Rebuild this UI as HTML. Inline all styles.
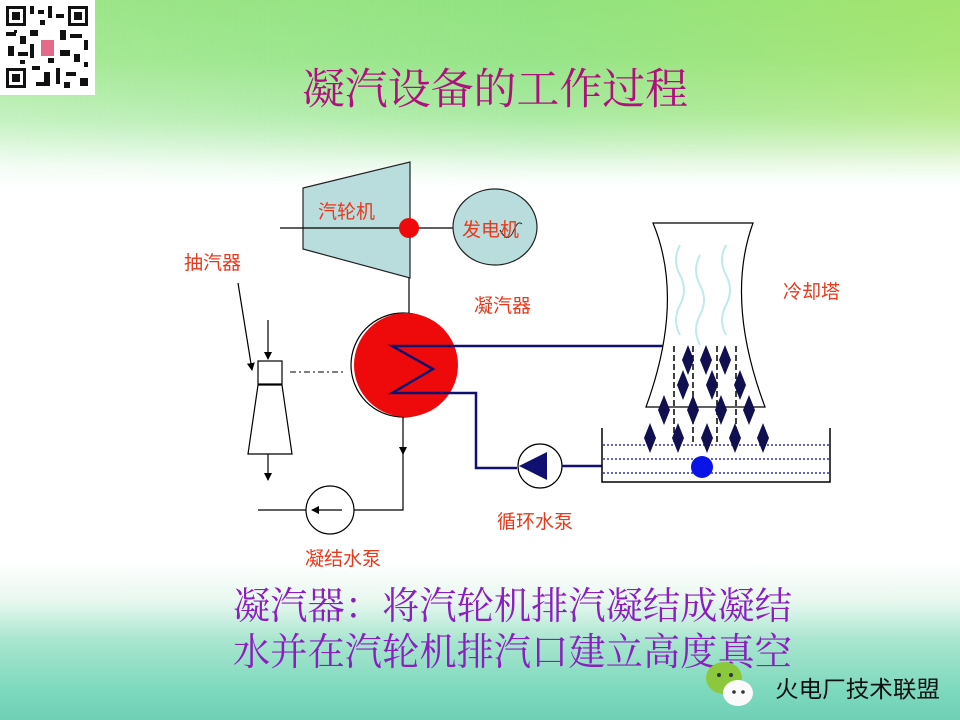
<!DOCTYPE html>
<html><head><meta charset="utf-8"><style>
html,body{margin:0;padding:0;}
body{width:960px;height:720px;overflow:hidden;position:relative;
background:linear-gradient(180deg,#9fe68a 0px,#a8ea98 60px,#c6f2c2 120px,#f2fcf4 165px,#ffffff 190px,#ffffff 560px,#e9f8f0 600px,#a9e6cf 640px,#7dd9bd 690px,#6fd0b5 720px);}
.grad{position:absolute;left:0;top:0;width:960px;height:200px;background:linear-gradient(90deg,rgba(255,255,255,0.0) 0%,rgba(120,220,110,0.35) 55%,rgba(170,225,60,0.35) 100%);
-webkit-mask-image:linear-gradient(180deg,#000 0%,#000 55%,transparent 90%);mask-image:linear-gradient(180deg,#000 0%,#000 55%,transparent 90%);}
svg{position:absolute;left:0;top:0;}
</style></head><body>
<div class="grad"></div>
<svg width="960" height="720" viewBox="0 0 960 720" xmlns="http://www.w3.org/2000/svg">
<defs>
<marker id="ar" markerWidth="8" markerHeight="10" refX="7" refY="5" orient="auto" markerUnits="userSpaceOnUse"><path d="M0,1 L8,5 L0,9 z" fill="#000"/></marker>
</defs>
<rect x="0" y="0" width="95" height="95" fill="#fff"/>
<g fill="#111">
<rect x="6" y="6" width="20" height="20"/><rect x="9" y="9" width="14" height="14" fill="#fff"/><rect x="12" y="12" width="8" height="8"/>
<rect x="68" y="6" width="20" height="20"/><rect x="71" y="9" width="14" height="14" fill="#fff"/><rect x="74" y="12" width="8" height="8"/>
<rect x="6" y="68" width="20" height="20"/><rect x="9" y="71" width="14" height="14" fill="#fff"/><rect x="12" y="74" width="8" height="8"/>
<rect x="30" y="6" width="4" height="8"/><rect x="38" y="10" width="6" height="4"/><rect x="48" y="6" width="4" height="12"/><rect x="56" y="14" width="8" height="4"/>
<rect x="6" y="32" width="10" height="4"/><rect x="20" y="36" width="6" height="8"/><rect x="30" y="30" width="8" height="6"/><rect x="60" y="30" width="6" height="10"/>
<rect x="70" y="34" width="12" height="4"/><rect x="84" y="40" width="4" height="10"/><rect x="8" y="46" width="6" height="10"/><rect x="18" y="52" width="10" height="4"/>
<rect x="30" y="44" width="4" height="14"/><rect x="60" y="50" width="10" height="6"/><rect x="74" y="54" width="6" height="8"/><rect x="32" y="66" width="8" height="4"/>
<rect x="44" y="72" width="6" height="10"/><rect x="56" y="68" width="4" height="16"/><rect x="66" y="72" width="10" height="4"/><rect x="80" y="78" width="8" height="8"/>
<rect x="36" y="82" width="14" height="4"/><rect x="64" y="82" width="6" height="6"/>
<rect x="14" y="30" width="3" height="3"/><rect x="40" y="20" width="5" height="5"/><rect x="20" y="60" width="5" height="4"/><rect x="48" y="58" width="6" height="5"/><rect x="84" y="62" width="4" height="5"/>
</g>
<rect x="41" y="40" width="13" height="16" fill="#e46a8a"/>
<text x="495" y="104" text-anchor="middle" font-family="'Liberation Serif','Noto Serif CJK SC',serif" font-size="43" fill="#b0107e" textLength="386" lengthAdjust="spacingAndGlyphs">凝汽设备的工作过程</text>

<polygon points="303,188 410,162 410,278 303,249" fill="#b9dcdc" stroke="#222" stroke-width="1.2"/>
<line x1="280" y1="228" x2="455" y2="228" stroke="#000" stroke-width="1.2"/>
<ellipse cx="495" cy="227" rx="42" ry="38" fill="#b9dcdc" stroke="#222" stroke-width="1.2"/>
<path d="M500,230 q8,15 14,0 q4,-10 8,-6" fill="none" stroke="#222" stroke-width="1"/>
<circle cx="409" cy="228" r="10" fill="#ee0a0a"/>
<text x="318" y="218" font-family="'Liberation Sans','Noto Sans CJK SC',sans-serif" font-size="19" fill="#e8391c">汽轮机</text>
<text x="462" y="236" font-family="'Liberation Sans','Noto Sans CJK SC',sans-serif" font-size="19" fill="#e8391c">发电机</text>
<line x1="409" y1="278" x2="409" y2="314" stroke="#000" stroke-width="1.2"/>
<circle cx="403" cy="365" r="52" fill="none" stroke="#000" stroke-width="1.2"/>
<circle cx="406" cy="365" r="52" fill="#ee0a0a"/>
<polyline points="700,346 392,346 433,369 392,393 476,393 476,468 517,468" fill="none" stroke="#101070" stroke-width="2.5"/>
<line x1="290" y1="372" x2="345" y2="372" stroke="#000" stroke-width="1" stroke-dasharray="6,3,2,3"/>
<circle cx="540" cy="466" r="22" fill="#fff" stroke="#000" stroke-width="1.2"/>
<polygon points="519,466 547,452 547,480" fill="#101070"/>
<line x1="562" y1="466" x2="602" y2="466" stroke="#101070" stroke-width="2.5"/>
<line x1="403" y1="417" x2="403" y2="454" stroke="#000" stroke-width="1.2" marker-end="url(#ar)"/>
<polyline points="403,452 403,510 354,510" fill="none" stroke="#000" stroke-width="1.2"/>
<circle cx="330" cy="510" r="24" fill="#fff" stroke="#000" stroke-width="1.2"/>
<line x1="342" y1="510" x2="312" y2="510" stroke="#000" stroke-width="1.2" marker-end="url(#ar)"/>
<line x1="306" y1="510" x2="258" y2="510" stroke="#000" stroke-width="1.2"/>
<rect x="258" y="361" width="24" height="23" fill="#fff" stroke="#000" stroke-width="1.2"/>
<polygon points="258,385 282,385 292,454 248,454" fill="#fff" stroke="#000" stroke-width="1.2"/>
<line x1="268" y1="320" x2="268" y2="359" stroke="#000" stroke-width="1.2" marker-end="url(#ar)"/>
<line x1="268" y1="454" x2="268" y2="480" stroke="#000" stroke-width="1.2" marker-end="url(#ar)"/>
<line x1="238" y1="283" x2="252" y2="370" stroke="#000" stroke-width="1.2" marker-end="url(#ar)"/>
<g font-family="'Liberation Sans','Noto Sans CJK SC',sans-serif" font-size="19" fill="#e8391c">
<text x="184" y="269">抽汽器</text>
<text x="474" y="312">凝汽器</text>
<text x="305" y="565">凝结水泵</text>
<text x="497" y="528">循环水泵</text>
<text x="783" y="298">冷却塔</text>
</g>
<path d="M653,223 L753,223 Q725,300 765,407 L646,407 Q685,300 653,223 Z" fill="#fff" stroke="#000" stroke-width="1.2"/>
<g fill="none" stroke="#bfeaea" stroke-width="2">
<path d="M680,245 q-8,15 0,30 q8,15 0,30 q-8,15 0,30"/>
<path d="M700,255 q-8,15 0,30 q8,15 0,30 q-8,15 0,30"/>
<path d="M726,245 q-8,15 0,30 q8,15 0,30 q-8,15 0,30"/>
</g>
<g stroke="#000" stroke-width="1.5" stroke-dasharray="6,3">
<line x1="674" y1="346" x2="674" y2="445"/><line x1="693" y1="346" x2="693" y2="445"/>
<line x1="717" y1="346" x2="717" y2="445"/><line x1="736" y1="346" x2="736" y2="445"/>
</g>
<polyline points="602,428 602,482 830,482 830,428" fill="none" stroke="#000" stroke-width="1.5"/>
<g stroke="#3030a0" stroke-width="1.5" stroke-dasharray="2,2">
<line x1="603" y1="445" x2="829" y2="445"/><line x1="603" y1="459" x2="829" y2="459"/><line x1="603" y1="473" x2="829" y2="473"/>
</g>
<circle cx="702" cy="467" r="11" fill="#0a14e6"/>
<g fill="#101050">
<path d="M688,345 l6,15 l-6,15 l-6,-15z"/><path d="M706,345 l6,15 l-6,15 l-6,-15z"/><path d="M725,345 l6,15 l-6,15 l-6,-15z"/>
<path d="M683,370 l6,15 l-6,15 l-6,-15z"/><path d="M712,370 l6,15 l-6,15 l-6,-15z"/><path d="M740,370 l6,15 l-6,15 l-6,-15z"/>
<path d="M664,395 l6,15 l-6,15 l-6,-15z"/><path d="M693,395 l6,15 l-6,15 l-6,-15z"/><path d="M721,395 l6,15 l-6,15 l-6,-15z"/><path d="M749,395 l6,15 l-6,15 l-6,-15z"/>
<path d="M650,423 l6,15 l-6,15 l-6,-15z"/><path d="M678,423 l6,15 l-6,15 l-6,-15z"/><path d="M707,423 l6,15 l-6,15 l-6,-15z"/><path d="M735,423 l6,15 l-6,15 l-6,-15z"/><path d="M763,423 l6,15 l-6,15 l-6,-15z"/>
</g>
<g font-family="'Liberation Serif','Noto Serif CJK SC',serif" font-size="38" fill="#8a1ec0">
<text x="233" y="619" textLength="559" lengthAdjust="spacingAndGlyphs">凝汽器：将汽轮机排汽凝结成凝结</text>
<text x="233" y="665" textLength="559" lengthAdjust="spacingAndGlyphs">水并在汽轮机排汽口建立高度真空</text>
</g>
<ellipse cx="724" cy="678" rx="18" ry="16" fill="#8cc83c"/>
<circle cx="719" cy="675" r="2" fill="#333"/><circle cx="731" cy="675" r="2" fill="#333"/>
<ellipse cx="738" cy="693" rx="15" ry="13" fill="#fafafa"/>
<circle cx="734" cy="692" r="1.8" fill="#333"/><circle cx="743" cy="692" r="1.8" fill="#333"/>
<text x="775" y="697" font-family="'Liberation Sans','Noto Sans CJK SC',sans-serif" font-size="23" fill="#111" textLength="165" lengthAdjust="spacingAndGlyphs">火电厂技术联盟</text>
</svg>
</body></html>
